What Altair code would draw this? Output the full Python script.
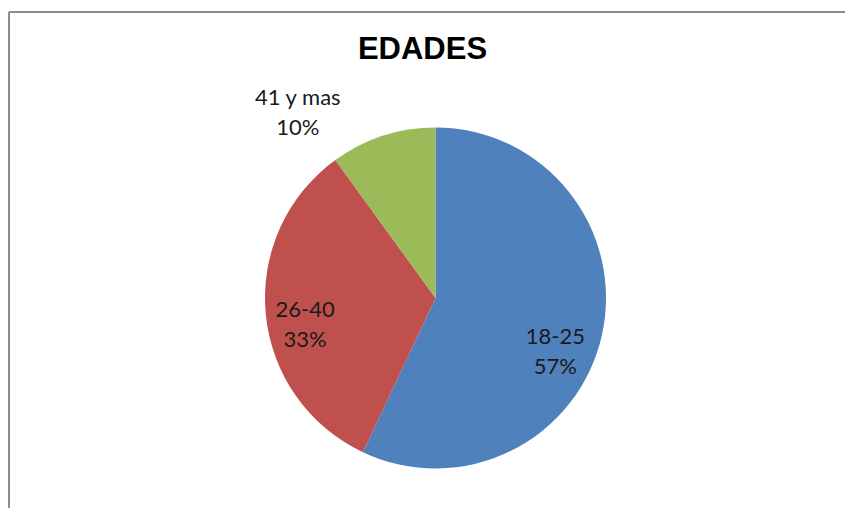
import altair as alt
import pandas as pd

title_text = ["EDADES"]
categories = ["18-25", "26-40", "41 y mas"]
values = [57, 33, 10]
pct_labels = ["57%", "33%", "10%"]
colors = ["#4F81BD", "#C0504D", "#9BBB59"]

total = sum(values)
df = pd.DataFrame({"cat": categories, "val": values, "pct": pct_labels, "idx": list(range(len(categories)))})
df["label"] = df["cat"] + "\n" + df["pct"]

W, H = 837, 500
CX, CY, R = 427.5, 290, 170.5

pie = alt.Chart(df).mark_arc(radius=R).encode(
    theta=alt.Theta("val:Q", stack=True, scale=alt.Scale(domain=[0, total])),
    order=alt.Order("idx:Q"),
    color=alt.Color("cat:N", scale=alt.Scale(domain=categories, range=colors), legend=None),
    x=alt.value(CX),
    y=alt.value(CY),
)


def label_layer(cat, r, dx, dy, size=22):
    return (
        alt.Chart(df)
        .transform_window(cum="sum(val)", sort=[alt.SortField("idx")], frame=[None, 0])
        .transform_calculate(mid="datum.cum - datum.val / 2")
        .transform_filter(alt.datum.cat == cat)
        .mark_text(radius=r, dx=dx, dy=dy, font="Lato", fontSize=size, lineBreak="\n",
                   lineHeight=30, align="center", baseline="middle", color="#1a1a1a")
        .encode(
            theta=alt.Theta("mid:Q", scale=alt.Scale(domain=[0, total])),
            text="label:N",
            x=alt.value(CX),
            y=alt.value(CY),
        )
    )


lab1 = label_layer("18-25", 131, -8, 10)
lab2 = label_layer("26-40", 133, 2, -1)
lab3 = label_layer("41 y mas", 232, -66, 21)

title = alt.Chart(pd.DataFrame({"t": title_text})).mark_text(
    font="Liberation Sans", fontWeight="bold", fontSize=31, align="center",
    baseline="alphabetic", color="#000000"
).encode(text="t:N", x=alt.value(414.5), y=alt.value(51))

frame_df = pd.DataFrame({"k": [0]})
top_rule = alt.Chart(frame_df).mark_rule(color="#8c8c8c", strokeWidth=2).encode(
    x=alt.value(1), x2=alt.value(W + 10), y=alt.value(4)
)
left_rule = alt.Chart(frame_df).mark_rule(color="#8c8c8c", strokeWidth=2).encode(
    x=alt.value(1), y=alt.value(4), y2=alt.value(H + 10)
)

chart = alt.layer(top_rule, left_rule, pie, lab1, lab2, lab3, title).properties(
    width=W, height=H, padding=0, autosize="none", background="white"
).configure_view(strokeWidth=0)

chart.save("out.html", embed_options={"renderer": "svg", "actions": False})
